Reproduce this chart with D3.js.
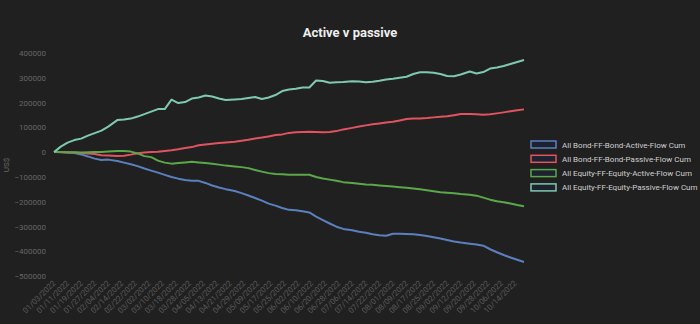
<!DOCTYPE html>
<html><head><meta charset="utf-8">
<script src="https://cdn.jsdelivr.net/npm/d3@7"></script>
<style>
html,body{margin:0;padding:0;background:#202020;}
svg{display:block;font-family:Roboto,"Noto Sans",sans-serif;}
</style></head>
<body><svg id="c" width="700" height="324"></svg>
<script>
const title = "Active v passive";
const yAxisLabel = "US$";
const firstDay = "01/03/2022", lastDay = "10/20/2022";
const sampleDates = ["01/03/2022","01/06/2022","01/11/2022","01/14/2022","01/19/2022","01/24/2022","01/27/2022","02/01/2022","02/04/2022","02/10/2022","02/15/2022","02/18/2022","02/23/2022","02/28/2022","03/03/2022","03/08/2022","03/11/2022","03/16/2022","03/21/2022","03/24/2022","03/29/2022","04/01/2022","04/06/2022","04/11/2022","04/14/2022","04/19/2022","04/25/2022","04/28/2022","05/03/2022","05/06/2022","05/11/2022","05/16/2022","05/19/2022","05/24/2022","05/27/2022","06/01/2022","06/06/2022","06/09/2022","06/14/2022","06/17/2022","06/22/2022","06/27/2022","06/30/2022","07/06/2022","07/11/2022","07/14/2022","07/19/2022","07/22/2022","07/27/2022","08/01/2022","08/04/2022","08/09/2022","08/12/2022","08/17/2022","08/22/2022","08/25/2022","08/30/2022","09/02/2022","09/07/2022","09/12/2022","09/16/2022","09/21/2022","09/26/2022","09/29/2022","10/04/2022","10/07/2022","10/12/2022","10/17/2022","10/20/2022"];
const xTickLabels = ["01/03/2022","01/11/2022","01/19/2022","01/27/2022","02/04/2022","02/14/2022","02/22/2022","03/02/2022","03/10/2022","03/18/2022","03/28/2022","04/05/2022","04/13/2022","04/21/2022","04/29/2022","05/09/2022","05/17/2022","05/25/2022","06/02/2022","06/10/2022","06/20/2022","06/28/2022","07/06/2022","07/14/2022","07/22/2022","08/01/2022","08/09/2022","08/17/2022","08/25/2022","09/02/2022","09/12/2022","09/20/2022","09/28/2022","10/06/2022","10/14/2022"];
const yTicks = [400000,300000,200000,100000,0,-100000,-200000,-300000,-400000,-500000];
const seriesNames = ["All Bond-FF-Bond-Active-Flow Cum","All Bond-FF-Bond-Passive-Flow Cum","All Equity-FF-Equity-Active-Flow Cum","All Equity-FF-Equity-Passive-Flow Cum"];
const seriesColors = ["#5b80bd","#e0535f","#5aa84a","#7fc9ae"];
const bondActive = [0,0,-1200,-4000,-9300,-17400,-26300,-31500,-30300,-35600,-42400,-49300,-56600,-66300,-74700,-82800,-91700,-100200,-107100,-112300,-115500,-116000,-124400,-134500,-142600,-149500,-156800,-165600,-174900,-185400,-195900,-208000,-216100,-225400,-233100,-234300,-238400,-243600,-260600,-274700,-288100,-301000,-309900,-315100,-321200,-325200,-331300,-335300,-337800,-329300,-329700,-330500,-331300,-334500,-338200,-343400,-348700,-354700,-360400,-364800,-369700,-372900,-377800,-392000,-404000,-415300,-425400,-434300,-443200];
const bondPassive = [0,-1000,-1500,-2000,-4000,-5300,-7300,-12900,-13300,-15400,-14500,-10100,-4800,-2000,0,1600,4400,7300,11300,16200,20200,27500,31100,33500,36400,39200,42000,45700,49700,54500,58600,63400,68700,71500,77600,80000,81600,82000,81600,80000,80800,84800,91700,97800,103000,107900,112300,115900,119200,122400,128000,133300,136100,136100,137400,140200,142600,144600,149100,153500,153500,152700,150300,152700,156300,160400,164800,168900,172500];
const equityActive = [0,0,-500,-1000,-1500,-1000,0,0,2000,4000,4000,2000,-5300,-16200,-20200,-34300,-42400,-46500,-43600,-41600,-39200,-41600,-44400,-47300,-50500,-54500,-58200,-60600,-64600,-71900,-78800,-84800,-88100,-89300,-91300,-90900,-90900,-91300,-100200,-106300,-111100,-115900,-121200,-124400,-127300,-130500,-132100,-134500,-136600,-138600,-141400,-143800,-146700,-150300,-153500,-157600,-161600,-164000,-166000,-168900,-171700,-175700,-183800,-191900,-198000,-202000,-207300,-213300,-218200];
const equityPassive = [0,22200,38400,48500,54500,66700,76800,86900,103000,129300,131300,135300,143400,153500,163600,173700,173700,212100,198000,202000,216100,220200,228300,224200,216100,210100,212100,214100,218200,222200,214100,220200,230300,246400,252500,255300,260600,260600,288900,286800,280000,281600,282800,286000,284800,282000,283600,287600,292900,295700,299800,304200,315100,322000,322400,320000,315100,307000,305800,313100,325200,317100,323200,337300,341400,347400,355500,363600,371700];
const seriesValues = [bondActive, bondPassive, equityActive, equityPassive];

// category axis: every weekday (trading-day axis) between first and last day
const parse = d3.timeParse("%m/%d/%Y"), fmt = d3.timeFormat("%m/%d/%Y");
const allDays = d3.timeDay.range(parse(firstDay), d3.timeDay.offset(parse(lastDay),1))
  .filter(d => d.getDay() !== 0 && d.getDay() !== 6).map(fmt);

const svg = d3.select("#c");
svg.append("rect").attr("width",700).attr("height",324).attr("fill","#202020");

const x = d3.scalePoint().domain(allDays).range([54,524]);
const y = d3.scaleLinear().domain([-500000,400000]).range([276,53]);

svg.append("text").attr("x",350).attr("y",37).attr("text-anchor","middle")
  .attr("fill","#eeeeee").attr("font-size",13).attr("font-weight","bold").text(title);

const ya = svg.append("g").attr("transform","translate(50,0)")
  .call(d3.axisLeft(y).tickValues(yTicks).tickFormat(d3.format("d")).tickSize(0).tickPadding(4));
ya.select(".domain").remove();
ya.selectAll("text").attr("fill","#666666").attr("font-size",8).attr("font-family","Roboto,sans-serif");

svg.append("text").attr("transform","translate(9,165) rotate(-90)").attr("text-anchor","middle")
  .attr("fill","#666666").attr("font-size",8).text(yAxisLabel);

const xa = svg.append("g").attr("transform","translate(0,276)")
  .call(d3.axisBottom(x).tickValues(xTickLabels).tickSize(0).tickPadding(0));
xa.select(".domain").remove();
xa.selectAll("text").attr("fill","#5a5a5a").attr("font-size",8).attr("font-family","Roboto,sans-serif")
  .attr("text-anchor","end").attr("dy","0.3em")
  .attr("transform","translate(0,6) rotate(-45)");

const line = d3.line().x((d,i)=>x(sampleDates[i])).y(d=>y(d));
seriesValues.forEach((vals,si)=>{
  svg.append("path").datum(vals).attr("d",line).attr("fill","none")
    .attr("stroke",seriesColors[si]).attr("stroke-width",2).attr("stroke-linejoin","round");
});

const lg = svg.append("g").attr("transform","translate(531,141)");
seriesNames.forEach((n,i)=>{
  const g = lg.append("g").attr("transform",`translate(0,${i*14.3})`);
  g.append("rect").attr("x",0).attr("y",0).attr("width",25).attr("height",7)
    .attr("fill","#1c2230").attr("stroke",seriesColors[i]).attr("stroke-width",1.5);
  g.append("text").attr("x",31).attr("y",6.5).attr("fill","#cfcfcf").attr("font-size",8).text(n);
});
</script></body></html>
